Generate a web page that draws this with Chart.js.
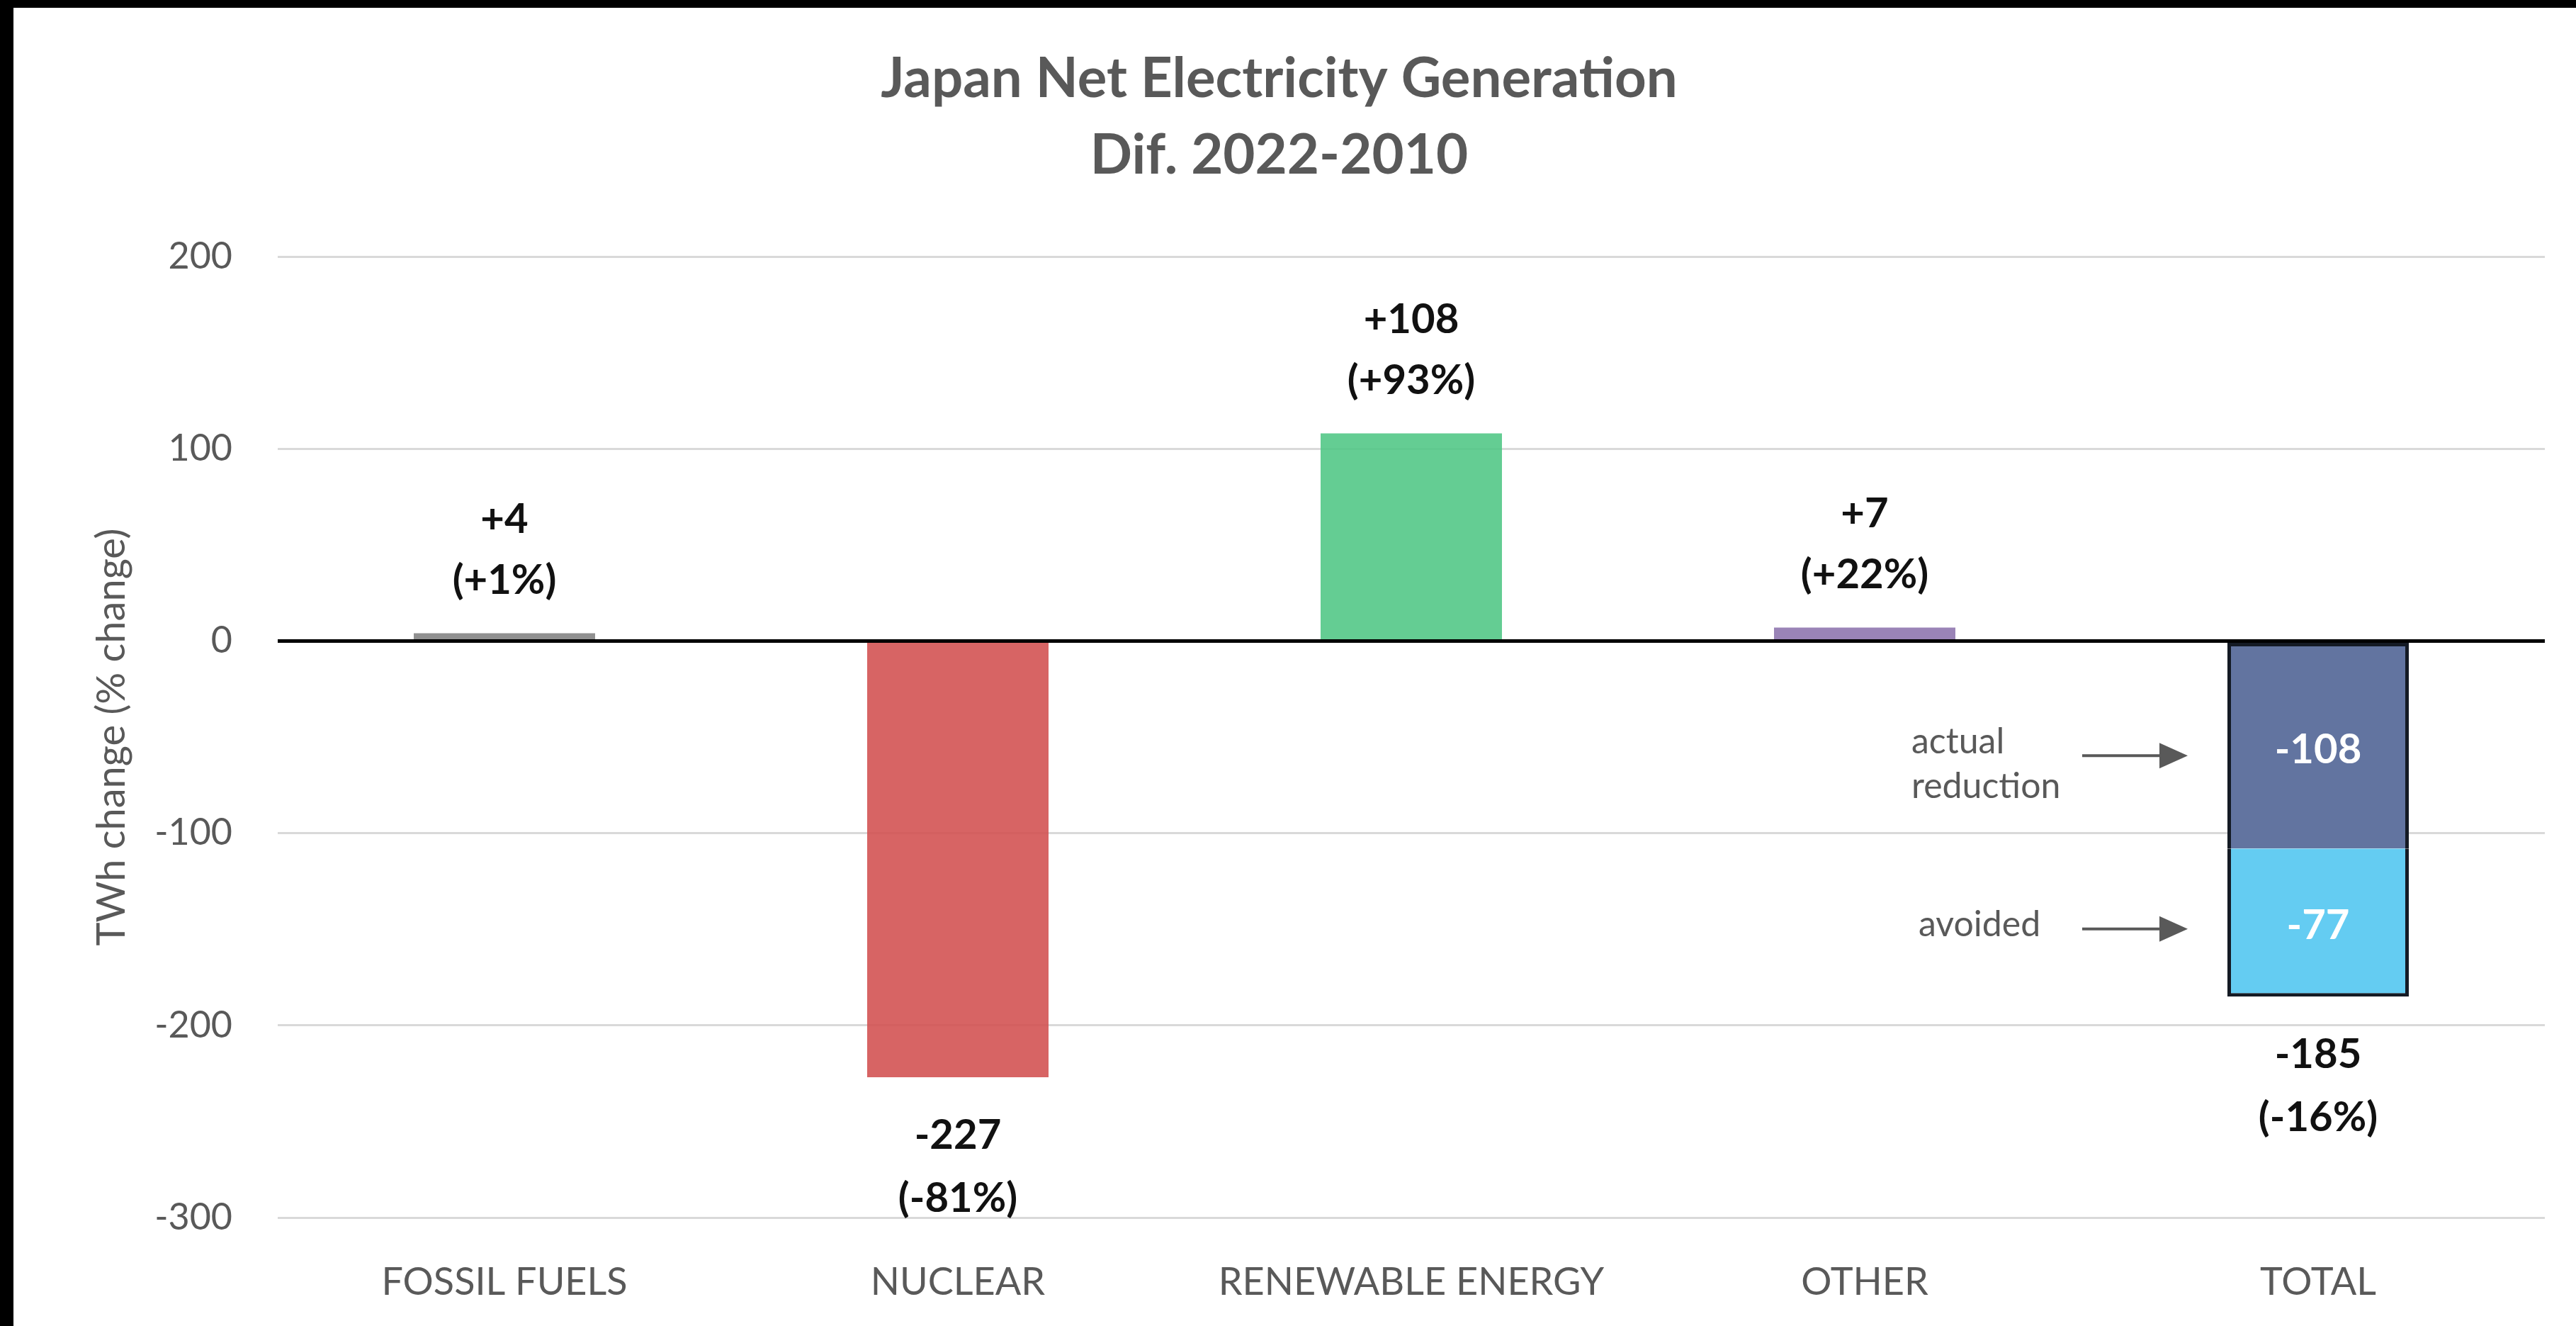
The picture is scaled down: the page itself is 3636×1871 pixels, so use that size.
<!DOCTYPE html>
<html>
<head>
<meta charset="utf-8">
<title>Japan Net Electricity Generation</title>
<script src="https://cdn.jsdelivr.net/npm/chart.js@4/dist/chart.umd.min.js"></script>
<style>
  html, body { margin: 0; padding: 0; background: #000; overflow: hidden; }
  #wrap { position: absolute; left: 19px; top: 11px; width: 3617px; height: 1860px; background: #fff; }
</style>
</head>
<body>
<div id="wrap"><canvas id="chart-generation" width="3617" height="1860"></canvas></div>
<script>
// TWh difference 2022 vs 2010 per source
var categories = ["FOSSIL FUELS", "NUCLEAR", "RENEWABLE ENERGY", "OTHER", "TOTAL"];
var changeTWh = [4, -227, 108, 7, null];
var changePct = ["+1%", "-81%", "+93%", "+22%", "-16%"];
// the total is split into what was actually cut and what was avoided
var totalActual = [null, null, null, null, -108];
var totalAvoided = [null, null, null, null, -77];
var yMin = -300, yMax = 200, yStep = 100;

var barColors = [
    'rgba(125, 125, 125, 0.85)',
    'rgba(210, 78, 78, 0.88)',
    'rgba(78, 198, 132, 0.88)',
    'rgba(140, 115, 173, 0.88)',
    'rgba(0, 0, 0, 0)'
];
var grey = '#595959';

function signed(v) {
    return v > 0 ? '+' + v : String(v);
}

// value labels above/below every bar, white numbers inside the total stack
var barLabels = {
    id: 'barLabels',
    afterDatasetsDraw: function(chart) {
        var ctx = chart.ctx;
        var main = chart.getDatasetMeta(0).data;
        var actual = chart.getDatasetMeta(1).data[4];
        var avoided = chart.getDatasetMeta(2).data[4];
        ctx.save();
        ctx.textAlign = 'center';
        ctx.textBaseline = 'middle';
        ctx.font = 'bold 58px Lato';
        ctx.fillStyle = '#111';

        function outside(x, yEnd, value, pct) {
            var lines = [signed(value), '(' + pct + ')'];
            if (value >= 0) {
                ctx.fillText(lines[0], x, yEnd - 160);
                ctx.fillText(lines[1], x, yEnd - 74);
            } else {
                ctx.fillText(lines[0], x, yEnd + 82);
                ctx.fillText(lines[1], x, yEnd + 171);
            }
        }
        for (var i = 0; i < 4; i++) {
            outside(main[i].x, main[i].y, changeTWh[i], changePct[i]);
        }
        var total = totalActual[4] + totalAvoided[4];
        outside(avoided.x, avoided.y, total, changePct[4]);

        ctx.fillStyle = '#fff';
        ctx.fillText(String(totalActual[4]), actual.x, (actual.y + actual.base) / 2 + 6);
        ctx.fillText(String(totalAvoided[4]), avoided.x, (avoided.y + avoided.base) / 2 + 5);

        // notes with arrows pointing at the two parts of the total
        ctx.fillStyle = grey;
        ctx.strokeStyle = grey;
        ctx.lineWidth = 4;
        ctx.font = '50px Lato';
        ctx.textAlign = 'left';
        ctx.textBaseline = 'alphabetic';

        function arrow(tipX, y) {
            ctx.beginPath();
            ctx.moveTo(tipX - 149, y);
            ctx.lineTo(tipX - 36, y);
            ctx.stroke();
            ctx.beginPath();
            ctx.moveTo(tipX, y);
            ctx.lineTo(tipX - 40, y - 18);
            ctx.lineTo(tipX - 40, y + 18);
            ctx.closePath();
            ctx.fill();
        }
        var left = actual.x - actual.width / 2;
        var y1 = (actual.y + actual.base) / 2 + 14;
        arrow(left - 56, y1);
        ctx.fillText('actual', left - 446, y1 - 3);
        ctx.fillText('reduction', left - 446, y1 + 60);

        var y2 = (avoided.y + avoided.base) / 2 + 9;
        arrow(left - 56, y2);
        ctx.fillText('avoided', left - 436, y2 + 10);
        ctx.restore();
    }
};

Chart.defaults.font.family = 'Lato';

var ctx = document.getElementById('chart-generation').getContext('2d');
var chart = new Chart(ctx, {
    type: 'bar',
    data: {
        labels: categories,
        datasets: [{
            label: 'Change',
            data: changeTWh,
            backgroundColor: barColors,
            borderWidth: 0
        }, {
            label: 'actual reduction',
            data: totalActual,
            backgroundColor: '#6274a0',
            borderColor: '#141a24',
            borderWidth: { top: 5, left: 5, right: 5, bottom: 0 },
            borderSkipped: false
        }, {
            label: 'avoided',
            data: totalAvoided,
            backgroundColor: '#64ccf2',
            borderColor: '#141a24',
            borderWidth: { top: 0, left: 5, right: 5, bottom: 5 },
            borderSkipped: false
        }]
    },
    options: {
        responsive: false,
        devicePixelRatio: 1,
        animation: false,
        categoryPercentage: 1,
        barPercentage: 0.4,
        layout: { padding: { top: 0, right: 44, bottom: 0, left: 0 } },
        plugins: {
            legend: { display: false },
            tooltip: { enabled: false },
            title: {
                display: true,
                text: ['Japan Net Electricity Generation', 'Dif. 2022-2010'],
                color: grey,
                font: { size: 78, weight: 'bold', lineHeight: 1.385 },
                padding: { top: 47, bottom: 88 }
            }
        },
        scales: {
            x: {
                stacked: true,
                grid: { display: false },
                border: { display: false },
                ticks: {
                    color: grey,
                    font: { size: 54, lineHeight: 1.2 },
                    padding: 51,
                    maxRotation: 0,
                    autoSkip: false
                },
                afterFit: function(scale) { scale.height = 153; }
            },
            y: {
                stacked: true,
                min: yMin,
                max: yMax,
                border: { display: false },
                grid: {
                    drawTicks: false,
                    color: function(c) { return c.tick && c.tick.value === 0 ? '#000' : '#d9d9d9'; },
                    lineWidth: function(c) { return c.tick && c.tick.value === 0 ? 5 : 3; }
                },
                ticks: {
                    stepSize: yStep,
                    color: grey,
                    font: { size: 52 },
                    padding: 64
                },
                title: {
                    display: true,
                    text: 'TWh change (% change)',
                    color: grey,
                    font: { size: 56, lineHeight: 1.2 },
                    padding: { top: 105, bottom: 0 }
                },
                afterFit: function(scale) { scale.width = 373; }
            }
        }
    },
    plugins: [barLabels]
});
</script>
</body>
</html>
